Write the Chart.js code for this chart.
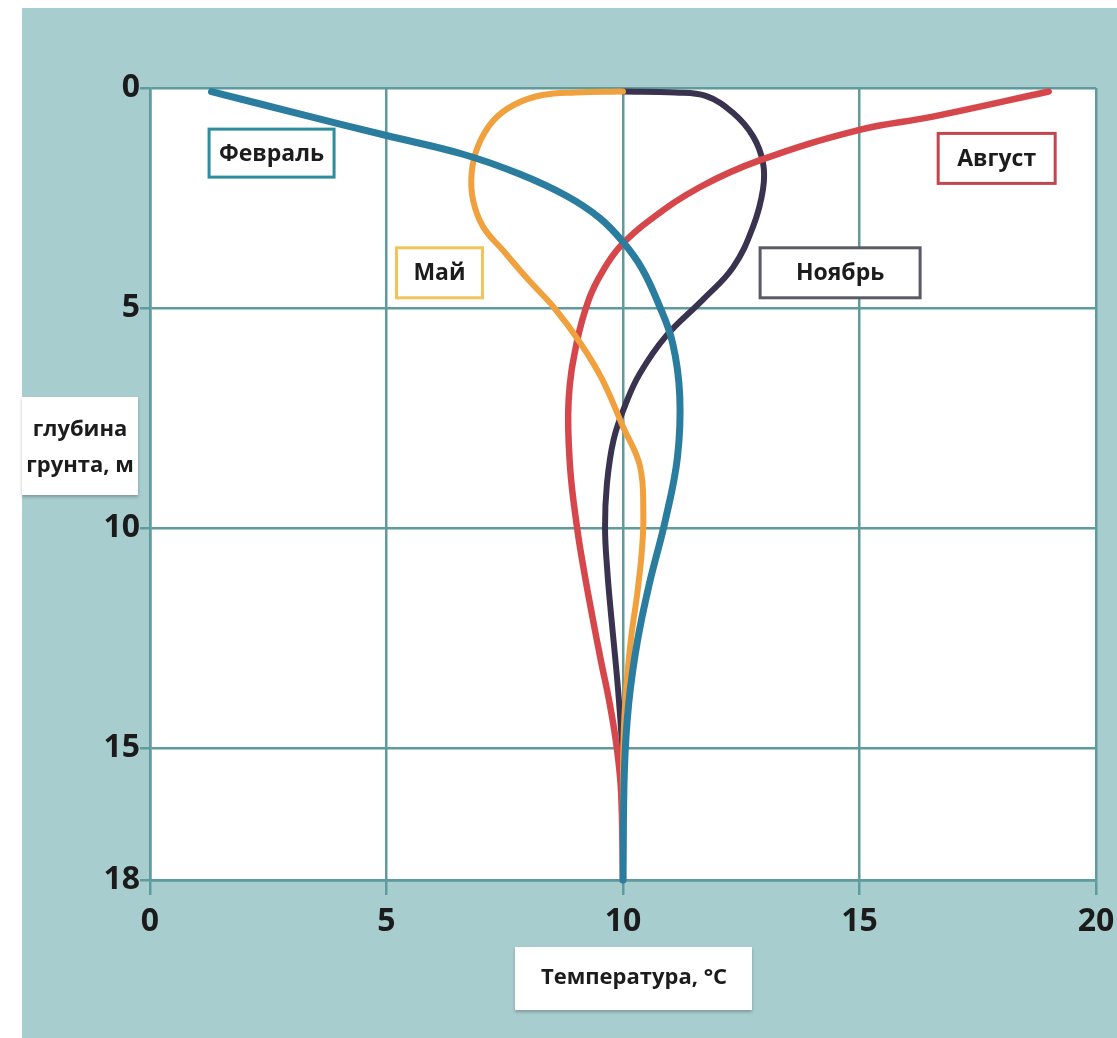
<!DOCTYPE html>
<html lang="ru">
<head>
    <meta charset="UTF-8">
    <title>Температура грунта</title>
    <script src="https://cdn.jsdelivr.net/npm/chart.js"></script>
    <style>
        body { margin: 0; background: #fff; }
    </style>
</head>
<body>
    <canvas id="soilChart" width="1117" height="1038"></canvas>

    <script>
        // tick labels
        const xTicks = [0, 5, 10, 15, 20];
        const yTicks = [0, 5, 10, 15, 18];

        // Февраль
        const febTemp  = [1.3, 3.2, 5.0, 6.6, 7.8, 8.8, 9.5, 10.0, 10.4, 10.75, 11.05, 11.2, 11.15, 10.9, 10.55, 10.3, 10.12, 10.03, 10.0];
        const febDepth = [0.08, 0.6, 1.08, 1.5, 1.95, 2.45, 2.95, 3.5, 4.1, 4.9, 5.8, 7.0, 8.4, 9.8, 11.3, 12.6, 14.0, 15.5, 18];

        // Май
        const mayTemp  = [10.0, 9.0, 8.3, 7.7, 7.25, 6.93, 6.8, 6.83, 7.04, 7.47, 8.0, 8.55, 9.1, 9.55, 10.0, 10.36, 10.43, 10.4, 10.3, 10.17, 10.08, 10.02, 10.0, 10.0];
        const mayDepth = [0.08, 0.1, 0.16, 0.38, 0.75, 1.33, 1.94, 2.55, 3.15, 3.7, 4.36, 5.0, 5.8, 6.6, 7.7, 8.6, 9.7, 10.5, 11.5, 12.5, 13.5, 14.5, 15.5, 18];

        // Август
        const augTemp  = [19.0, 16.55, 15.0, 12.9, 11.63, 10.57, 9.94, 9.55, 9.28, 9.02, 8.85, 8.88, 9.03, 9.18, 9.35, 9.53, 9.72, 9.87, 9.96, 10.0];
        const augDepth = [0.08, 0.65, 0.95, 1.64, 2.25, 3.0, 3.6, 4.2, 4.8, 5.8, 7.1, 8.6, 10.0, 11.0, 12.0, 13.0, 14.0, 15.0, 16.0, 18];

        // Ноябрь
        const novTemp  = [10.0, 11.1, 11.75, 12.33, 12.75, 12.96, 12.96, 12.75, 12.33, 11.7, 10.9, 10.35, 10.05, 9.8, 9.66, 9.62, 9.67, 9.75, 9.84, 9.92, 9.98, 10.0, 10.0];
        const novDepth = [0.08, 0.1, 0.18, 0.57, 1.1, 1.7, 2.3, 3.15, 4.07, 4.8, 5.65, 6.5, 7.2, 8.0, 9.0, 10.0, 11.0, 12.0, 13.0, 14.0, 15.0, 16.0, 18];

        const FONT = "'Open Sans', 'DejaVu Sans', sans-serif";
        const TEAL = '#a8cdcf';
        const GRID = '#5f9a9c';

        const toPoints = (xs, ys) => xs.map((x, i) => ({ x: x, y: ys[i] }));

        const seriesLabels = [
            { text: 'Февраль', x: 2.57, y: 1.48, w: 125, h: 48, color: '#2f8c9c' },
            { text: 'Май',     x: 6.12, y: 4.2,  w: 86,  h: 50, color: '#f0c45a' },
            { text: 'Ноябрь',  x: 14.59, y: 4.2, w: 160, h: 50, color: '#5a5a64' },
            { text: 'Август',  x: 17.9, y: 1.6,  w: 117, h: 50, color: '#c2454f' }
        ];

        const backdrop = {
            id: 'backdrop',
            beforeDraw(chart) {
                const ctx = chart.ctx;
                const a = chart.chartArea;
                ctx.save();
                ctx.fillStyle = '#fff';
                ctx.fillRect(0, 0, chart.width, chart.height);
                ctx.fillStyle = TEAL;
                ctx.fillRect(22, 8, chart.width - 22, chart.height - 8);
                ctx.fillStyle = '#fff';
                ctx.fillRect(a.left, a.top, a.right - a.left, a.bottom - a.top);
                ctx.restore();
            }
        };

        const boxes = {
            id: 'boxes',
            afterDraw(chart) {
                const ctx = chart.ctx;
                const xs = chart.scales.x, ys = chart.scales.y;
                ctx.save();
                ctx.textAlign = 'center';
                ctx.textBaseline = 'middle';
                ctx.font = 'bold 23px ' + FONT;

                seriesLabels.forEach(l => {
                    const cx = xs.getPixelForValue(l.x);
                    const cy = ys.getPixelForValue(l.y);
                    ctx.fillStyle = '#fff';
                    ctx.fillRect(cx - l.w / 2, cy - l.h / 2, l.w, l.h);
                    ctx.strokeStyle = l.color;
                    ctx.lineWidth = 3;
                    ctx.strokeRect(cx - l.w / 2, cy - l.h / 2, l.w, l.h);
                    ctx.fillStyle = '#1c1c1c';
                    ctx.fillText(l.text, cx, cy + 1);
                });

                // axis titles in white boxes
                ctx.shadowColor = 'rgba(0,0,0,0.25)';
                ctx.shadowOffsetY = 2;
                ctx.shadowBlur = 3;
                ctx.fillStyle = '#fff';
                ctx.fillRect(22, 397, 116, 98);
                ctx.fillRect(515, 947, 237, 63);
                ctx.shadowColor = 'transparent';
                ctx.fillStyle = '#1c1c1c';
                ctx.font = 'bold 22px ' + FONT;
                ctx.fillText('глубина', 80, 430);
                ctx.fillText('грунта, м', 80, 466);
                ctx.fillText('Температура, °С', 634, 978);
                ctx.restore();
            }
        };

        const ctx = document.getElementById('soilChart').getContext('2d');
        new Chart(ctx, {
            type: 'line',
            data: {
                datasets: [
                    { label: 'Февраль', data: toPoints(febTemp, febDepth), borderColor: '#2a7d9e', borderWidth: 7, order: 0 },
                    { label: 'Май', data: toPoints(mayTemp, mayDepth), borderColor: '#f0a03c', borderWidth: 6, order: 1 },
                    { label: 'Август', data: toPoints(augTemp, augDepth), borderColor: '#d6474b', borderWidth: 6.5, order: 2 },
                    { label: 'Ноябрь', data: toPoints(novTemp, novDepth), borderColor: '#3a3350', borderWidth: 6, order: 3 }
                ].map(d => Object.assign(d, {
                    tension: 0.4,
                    pointRadius: 0,
                    pointHoverRadius: 0,
                    borderCapStyle: 'round',
                    borderJoinStyle: 'round',
                    fill: false,
                    clip: 6
                }))
            },
            options: {
                indexAxis: 'y',
                responsive: false,
                animation: false,
                layout: { padding: { top: 88, right: 21, left: 0, bottom: 0 } },
                plugins: {
                    legend: { display: false },
                    tooltip: { enabled: false }
                },
                scales: {
                    x: {
                        type: 'linear',
                        min: 0,
                        max: 20,
                        afterBuildTicks: s => { s.ticks = xTicks.map(v => ({ value: v })); },
                        afterFit: s => { s.height = 158; s.paddingLeft = 0; s.paddingRight = 0; },
                        ticks: {
                            color: '#1b1b1b',
                            font: { family: FONT, size: 32, weight: 'bold' },
                            padding: 8,
                            maxRotation: 0
                        },
                        grid: { color: GRID, lineWidth: 2.5, tickLength: 15 },
                        border: { color: GRID, width: 2.5 }
                    },
                    y: {
                        type: 'linear',
                        reverse: true,
                        min: 0,
                        max: 18,
                        afterBuildTicks: s => { s.ticks = yTicks.map(v => ({ value: v })); },
                        afterFit: s => { s.width = 150; s.paddingTop = 0; s.paddingBottom = 0; },
                        ticks: {
                            color: '#1b1b1b',
                            font: { family: FONT, size: 32, weight: 'bold' },
                            padding: 0
                        },
                        grid: { color: GRID, lineWidth: 2.5, tickLength: 10 },
                        border: { color: GRID, width: 2.5 }
                    }
                }
            },
            plugins: [backdrop, boxes]
        });
    </script>
</body>
</html>
